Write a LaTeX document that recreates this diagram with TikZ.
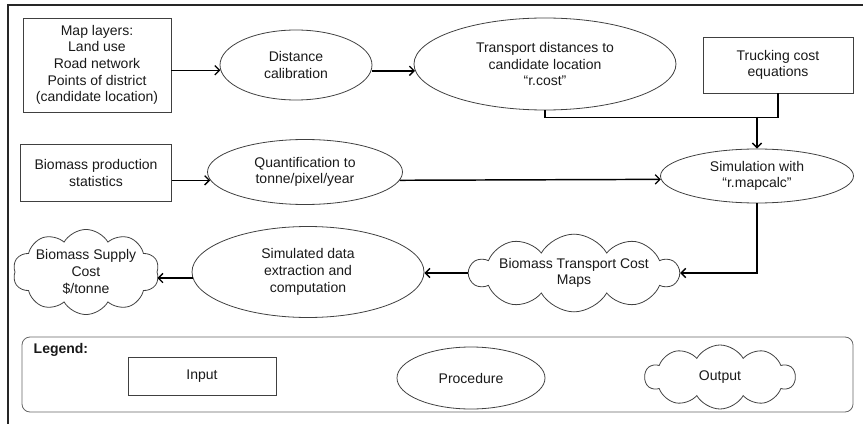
\documentclass[tikz,border=0pt]{standalone}
\usepackage{fontspec}
\setmainfont{Liberation Sans}
\usetikzlibrary{shapes.geometric,shapes.symbols,arrows.meta}
\begin{document}
\begin{tikzpicture}[x=0.75pt,y=-0.75pt,
  every node/.style={font=\fontsize{10.5}{12.5}\selectfont, text=black!90, align=center},
  inbox/.style={draw=black!75, line width=0.6pt, rectangle, inner sep=0pt},
  procell/.style={draw=black!75, line width=0.6pt, ellipse, inner sep=0pt},
  outcloud/.style={draw=black!75, line width=0.6pt, cloud, cloud puffs=10, cloud puff arc=120, cloud ignores aspect, inner sep=0pt},
  conn/.style={draw=black, line width=1.1pt},
  arr/.style={conn, -{Straight Barb[length=3.5pt,width=7pt,line width=1pt]}}
]
\useasboundingbox (0,0) rectangle (863,424);
% outer frame (visible top and left edges)
\draw[line width=1.6pt, black!85] (8,424) -- (8,5) -- (863,5);

% nodes
\node[inbox, minimum width=111pt, minimum height=70.5pt] (maps) at (97,65)
  {Map layers:\\Land use\\Road network\\Points of district\\(candidate location)};
\node[procell, minimum width=114pt, minimum height=52.5pt] (dist) at (296,65)
  {Distance\\calibration};
\node[procell, minimum width=196.5pt, minimum height=69pt] (trans) at (545,64)
  {Transport distances to\\candidate location\\“r.cost”};
\node[inbox, minimum width=112.5pt, minimum height=42pt] (truck) at (778,65)
  {Trucking cost\\equations};
\node[inbox, minimum width=113.25pt, minimum height=42.75pt] (prod) at (96,173)
  {Biomass production\\statistics};
\node[procell, minimum width=146.25pt, minimum height=48.75pt] (quant) at (305,172)
  {Quantification to\\tonne/pixel/year};
\node[procell, minimum width=144.75pt, minimum height=40.5pt] (sim) at (757,176)
  {Simulation with\\“r.mapcalc”};
\node[outcloud, minimum width=151.5pt, minimum height=54pt] (btc) at (574,273)
  {Biomass Transport Cost\\Maps};
\node[procell, minimum width=174pt, minimum height=68.25pt] (simd) at (308,272)
  {Simulated data\\extraction and\\computation};
\node[outcloud, minimum width=106.5pt, minimum height=60.75pt] (supply) at (86,272)
  {Biomass Supply\\Cost\\\$/tonne};

% legend
\node[draw=black!60, line width=0.6pt, rounded corners=6pt, minimum width=623.25pt, minimum height=56.25pt, inner sep=0pt] (legend) at (437.5,374.5) {};
\node[anchor=west, font=\fontsize{10.5}{12.5}\selectfont\bfseries] (legtitle) at (29,350) {Legend:};
\node[inbox, minimum width=111pt, minimum height=28.5pt] (linput) at (202,376) {Input};
\node[procell, minimum width=111pt, minimum height=46.5pt] (lproc) at (471,378) {Procedure};
\node[outcloud, minimum width=112.5pt, minimum height=48pt] (lout) at (720,377) {Output};

% connectors
\draw[arr] (dist.184 -| maps.east) -- (dist.184);
\draw[arr] (trans.183 -| dist.east) -- (trans.183);
\draw[conn] (trans.south) -- ++(0,7) -| (truck.south);
\coordinate (jn) at (757,117);
\draw[arr] (jn) -- (sim.north);
\draw[arr] (quant.185 -| prod.east) -- (quant.185);
\draw[arr] (quant.355) -- (sim.182);
\draw[arr] (sim.south) |- (btc.east);
\draw[arr] (btc.west) -- (btc.west -| simd.east);
\draw[arr] (simd.183) -- (simd.183 -| supply.east);
\end{tikzpicture}
\end{document}
